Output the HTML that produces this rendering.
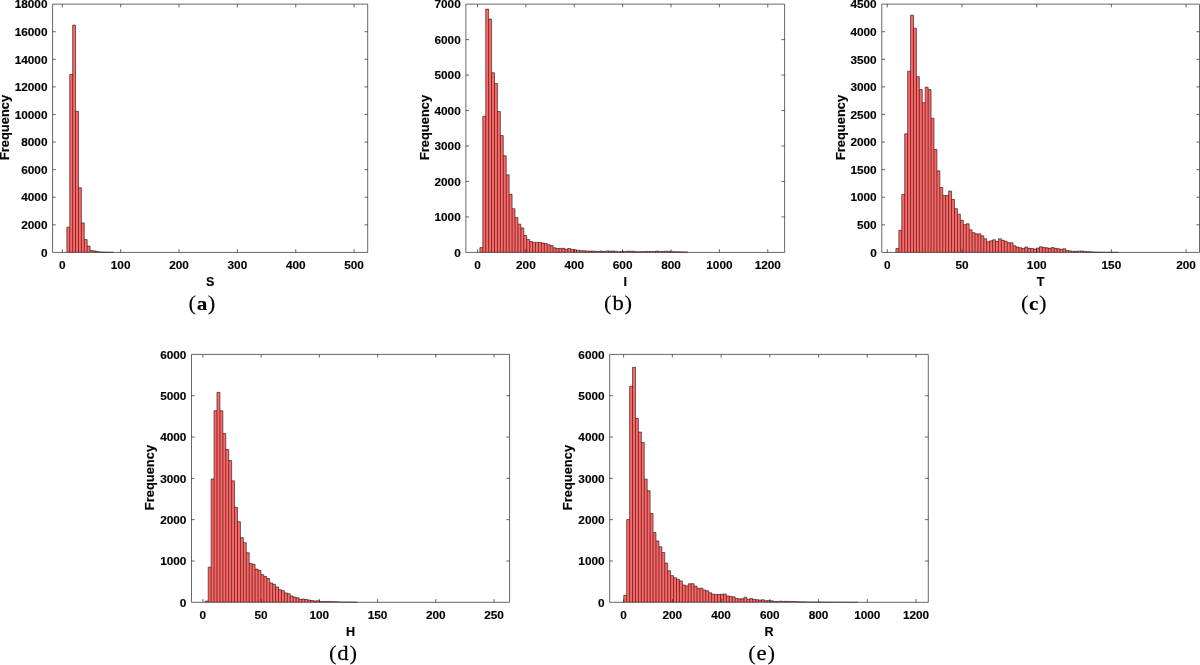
<!DOCTYPE html>
<html lang="en">
<head>
<meta charset="utf-8">
<title>Histograms</title>
<style>
html,body{margin:0;padding:0;background:#fff}
body{width:1200px;height:665px;overflow:hidden}
svg{display:block}
.bf{fill:#ff6666}
.be{fill:none;stroke:#000;stroke-width:0.55}
.ax{fill:none;stroke:#262626;stroke-width:0.7}
.t{font-family:"Liberation Sans",Arial,Helvetica,sans-serif;font-weight:700;font-size:11.8px;fill:#000;stroke:#000;stroke-width:.15}
.l{font-family:"Liberation Sans",Arial,Helvetica,sans-serif;font-weight:700;font-size:12.6px;fill:#000;stroke:#000;stroke-width:.15}
.yl{font-size:12.9px}
.cl{stroke-width:.25}
.cb{font-weight:700;font-size:19.6px;stroke-width:.12}
.c{font-family:"Liberation Serif","Times New Roman",serif;font-size:21px;fill:#000;stroke:#000;stroke-width:.1}
</style>
</head>
<body>
<svg width="1200" height="665" viewBox="0 0 1200 665">
<rect width="1200" height="665" fill="#fff"/>
<g>
<path class="bf" d="M66.85 252.4V227.16H69.75V74.49H72.66V25.11H75.56V111.31H78.47V187.72H81.38V222.89H84.28V239.57H87.18V246.06H90.09V250.61H92.99V250.88H95.9V251.5H98.8V251.92H101.71V252.06H104.61V252.15H107.52V252.21H110.42V252.26H113.33V252.4z"/>
<path class="be" d="M66.85 252.4V227.16M66.85 227.16H69.75M69.75 252.4V74.49M69.75 74.49H72.66M72.66 252.4V25.11M72.66 25.11H75.56M75.56 252.4V25.11M75.56 111.31H78.47M78.47 252.4V111.31M78.47 187.72H81.38M81.38 252.4V187.72M81.38 222.89H84.28M84.28 252.4V222.89M84.28 239.57H87.19M87.18 252.4V239.57M87.18 246.06H90.09M90.09 252.4V246.06M90.09 250.61H92.99M92.99 252.4V250.61M92.99 250.88H95.9M95.9 252.4V250.88M95.9 251.5H98.8M98.8 252.4V251.5M98.8 251.92H101.71M101.71 252.4V251.92M101.71 252.06H104.61M104.61 252.4V252.06M104.61 252.15H107.52M107.52 252.4V252.15M107.52 252.21H110.42M110.42 252.4V252.21M110.42 252.26H113.33M113.33 252.4V252.26"/>
<path class="ax" d="M52.6 4.15H367.7V252.4H52.6zM62.3 252.4v-3.2M62.3 4.15v3.2M120.66 252.4v-3.2M120.66 4.15v3.2M179.02 252.4v-3.2M179.02 4.15v3.2M237.38 252.4v-3.2M237.38 4.15v3.2M295.74 252.4v-3.2M295.74 4.15v3.2M354.1 252.4v-3.2M354.1 4.15v3.2M52.6 224.82h3.2M367.7 224.82h-3.2M52.6 197.23h3.2M367.7 197.23h-3.2M52.6 169.65h3.2M367.7 169.65h-3.2M52.6 142.07h3.2M367.7 142.07h-3.2M52.6 114.48h3.2M367.7 114.48h-3.2M52.6 86.9h3.2M367.7 86.9h-3.2M52.6 59.32h3.2M367.7 59.32h-3.2M52.6 31.73h3.2M367.7 31.73h-3.2"/>
<text class="t" x="62.3" y="269.1" text-anchor="middle">0</text>
<text class="t" x="120.66" y="269.1" text-anchor="middle">100</text>
<text class="t" x="179.02" y="269.1" text-anchor="middle">200</text>
<text class="t" x="237.38" y="269.1" text-anchor="middle">300</text>
<text class="t" x="295.74" y="269.1" text-anchor="middle">400</text>
<text class="t" x="354.1" y="269.1" text-anchor="middle">500</text>
<text class="t" x="47.5" y="256.6" text-anchor="end">0</text>
<text class="t" x="47.5" y="229.02" text-anchor="end">2000</text>
<text class="t" x="47.5" y="201.43" text-anchor="end">4000</text>
<text class="t" x="47.5" y="173.85" text-anchor="end">6000</text>
<text class="t" x="47.5" y="146.27" text-anchor="end">8000</text>
<text class="t" x="47.5" y="118.68" text-anchor="end">10000</text>
<text class="t" x="47.5" y="91.1" text-anchor="end">12000</text>
<text class="t" x="47.5" y="63.52" text-anchor="end">14000</text>
<text class="t" x="47.5" y="35.93" text-anchor="end">16000</text>
<text class="t" x="47.5" y="8.35" text-anchor="end">18000</text>
<text class="l" x="210.15" y="285.9" text-anchor="middle">S</text>
<text class="l yl" transform="translate(9.4 127.48) rotate(-90)" text-anchor="middle">Frequency</text>
<text class="c" transform="translate(202 310.2) scale(1.08 1)" text-anchor="middle">(<tspan class="cb" dx="0.5">a</tspan><tspan dx="0.5">)</tspan></text>
</g>
<g>
<path class="bf" d="M479.85 252.4V247.61H482.78V116.22H485.71V9.12H488.64V19.12H491.57V72.74H494.5V83.52H497.43V111.5H500.36V135.55H503.29V155.76H506.22V174.8H509.15V194.31H512.08V208.74H515.01V217.65H517.94V224.17H520.87V227.93H523.8V235.48H526.73V239.56H529.66V241.58H532.59V242.4H535.52V242.4H538.45V242.51H541.38V243H544.31V243.53H547.24V244.78H550.17V245.52H553.1V247.79H556.03V248.5H558.96V248.39H561.89V248.29H564.82V249.28H567.75V248.5H570.68V249.39H573.61V249.78H576.54V250.27H579.47V250.63H582.4V250.81H585.33V250.98H588.26V251.09H591.19V251.09H594.12V251.29H597.05V251.49H599.98V251.09H602.91V251.49H605.84V250.9H608.77V251.09H611.7V251.09H614.63V251.29H617.56V251.69H620.49V251.29H623.42V251.49H626.35V251.21H629.28V251.21H632.21V251.29H635.14V251.69H638.07V251.69H641V251.69H643.93V251.61H646.86V251.41H649.79V251.49H652.72V251.61H655.65V251.09H658.58V251.41H661.51V251.49H664.44V251.21H667.37V251.29H670.3V251.55H673.23V251.69H676.16V251.78H679.09V251.83H682.02V251.89H684.95V251.97H687.88V252.4z"/>
<path class="be" d="M479.85 252.4V247.61M479.85 247.61H482.78M482.78 252.4V116.22M482.78 116.22H485.71M485.71 252.4V9.12M485.71 9.12H488.64M488.64 252.4V9.12M488.64 19.12H491.57M491.57 252.4V19.12M491.57 72.74H494.5M494.5 252.4V72.74M494.5 83.52H497.43M497.43 252.4V83.52M497.43 111.5H500.36M500.36 252.4V111.5M500.36 135.55H503.29M503.29 252.4V135.55M503.29 155.76H506.22M506.22 252.4V155.76M506.22 174.8H509.15M509.15 252.4V174.8M509.15 194.31H512.08M512.08 252.4V194.31M512.08 208.74H515.01M515.01 252.4V208.74M515.01 217.65H517.94M517.94 252.4V217.65M517.94 224.17H520.87M520.87 252.4V224.17M520.87 227.93H523.8M523.8 252.4V227.93M523.8 235.48H526.73M526.73 252.4V235.48M526.73 239.56H529.66M529.66 252.4V239.56M529.66 241.58H532.59M532.59 252.4V241.58M532.59 242.4H535.52M535.52 252.4V242.4M535.52 242.4H538.45M538.45 252.4V242.4M538.45 242.51H541.38M541.38 252.4V242.51M541.38 243H544.31M544.31 252.4V243M544.31 243.53H547.24M547.24 252.4V243.53M547.24 244.78H550.17M550.17 252.4V244.78M550.17 245.52H553.1M553.1 252.4V245.52M553.1 247.79H556.03M556.03 252.4V247.79M556.03 248.5H558.96M558.96 252.4V248.39M558.96 248.39H561.89M561.89 252.4V248.29M561.89 248.29H564.82M564.82 252.4V248.29M564.82 249.28H567.75M567.75 252.4V248.5M567.75 248.5H570.68M570.68 252.4V248.5M570.68 249.39H573.61M573.61 252.4V249.39M573.61 249.78H576.54M576.54 252.4V249.78M576.54 250.27H579.47M579.47 252.4V250.27M579.47 250.63H582.4M582.4 252.4V250.63M582.4 250.81H585.33M585.33 252.4V250.81M585.33 250.98H588.26M588.26 252.4V250.98M588.26 251.09H591.19M591.19 252.4V251.09M591.19 251.09H594.12M594.12 252.4V251.09M594.12 251.29H597.05M597.05 252.4V251.29M597.05 251.49H599.98M599.98 252.4V251.09M599.98 251.09H602.91M602.91 252.4V251.09M602.91 251.49H605.84M605.84 252.4V250.9M605.84 250.9H608.77M608.77 252.4V250.9M608.77 251.09H611.7M611.7 252.4V251.09M611.7 251.09H614.63M614.63 252.4V251.09M614.63 251.29H617.56M617.56 252.4V251.29M617.56 251.69H620.49M620.49 252.4V251.29M620.49 251.29H623.42M623.42 252.4V251.29M623.42 251.49H626.35M626.35 252.4V251.21M626.35 251.21H629.28M629.28 252.4V251.21M629.28 251.21H632.21M632.21 252.4V251.21M632.21 251.29H635.14M635.14 252.4V251.29M635.14 251.69H638.07M638.07 252.4V251.69M638.07 251.69H641M641 252.4V251.69M641 251.69H643.93M643.93 252.4V251.61M643.93 251.61H646.86M646.86 252.4V251.41M646.86 251.41H649.79M649.79 252.4V251.41M649.79 251.49H652.72M652.72 252.4V251.49M652.72 251.61H655.65M655.65 252.4V251.09M655.65 251.09H658.58M658.58 252.4V251.09M658.58 251.41H661.51M661.51 252.4V251.41M661.51 251.49H664.44M664.44 252.4V251.21M664.44 251.21H667.37M667.37 252.4V251.21M667.37 251.29H670.3M670.3 252.4V251.29M670.3 251.55H673.23M673.23 252.4V251.55M673.23 251.69H676.16M676.16 252.4V251.69M676.16 251.78H679.09M679.09 252.4V251.78M679.09 251.83H682.02M682.02 252.4V251.83M682.02 251.89H684.95M684.95 252.4V251.89M684.95 251.97H687.88M687.88 252.4V251.97"/>
<path class="ax" d="M465.85 4.15H784.6V252.4H465.85zM477.5 252.4v-3.2M477.5 4.15v3.2M525.88 252.4v-3.2M525.88 4.15v3.2M574.26 252.4v-3.2M574.26 4.15v3.2M622.64 252.4v-3.2M622.64 4.15v3.2M671.02 252.4v-3.2M671.02 4.15v3.2M719.4 252.4v-3.2M719.4 4.15v3.2M767.78 252.4v-3.2M767.78 4.15v3.2M465.85 216.94h3.2M784.6 216.94h-3.2M465.85 181.47h3.2M784.6 181.47h-3.2M465.85 146.01h3.2M784.6 146.01h-3.2M465.85 110.54h3.2M784.6 110.54h-3.2M465.85 75.08h3.2M784.6 75.08h-3.2M465.85 39.61h3.2M784.6 39.61h-3.2"/>
<text class="t" x="477.5" y="269.1" text-anchor="middle">0</text>
<text class="t" x="525.88" y="269.1" text-anchor="middle">200</text>
<text class="t" x="574.26" y="269.1" text-anchor="middle">400</text>
<text class="t" x="622.64" y="269.1" text-anchor="middle">600</text>
<text class="t" x="671.02" y="269.1" text-anchor="middle">800</text>
<text class="t" x="719.4" y="269.1" text-anchor="middle">1000</text>
<text class="t" x="767.78" y="269.1" text-anchor="middle">1200</text>
<text class="t" x="460.75" y="256.6" text-anchor="end">0</text>
<text class="t" x="460.75" y="221.14" text-anchor="end">1000</text>
<text class="t" x="460.75" y="185.67" text-anchor="end">2000</text>
<text class="t" x="460.75" y="150.21" text-anchor="end">3000</text>
<text class="t" x="460.75" y="114.74" text-anchor="end">4000</text>
<text class="t" x="460.75" y="79.28" text-anchor="end">5000</text>
<text class="t" x="460.75" y="43.81" text-anchor="end">6000</text>
<text class="t" x="460.75" y="8.35" text-anchor="end">7000</text>
<text class="l" x="625.23" y="285.9" text-anchor="middle">I</text>
<text class="l yl" transform="translate(429.1 127.48) rotate(-90)" text-anchor="middle">Frequency</text>
<text class="c" transform="translate(618.1 310.2) scale(1.08 1)" text-anchor="middle">(<tspan class="cl" dx="0.8">b</tspan><tspan dx="0.8">)</tspan></text>
</g>
<g>
<path class="bf" d="M895.9 252.4V248.59H898.83V230.33H901.76V194.42H904.69V133.79H907.62V71.23H910.55V15.18H913.48V28.15H916.41V76.64H919.34V89.55H922.27V102.68H925.2V87.23H928.13V89.55H931.06V118.18H933.99V149.46H936.92V170.86H939.85V187.47H942.78V195.41H945.71V195.41H948.64V191.11H951.57V199.5H954.5V208.65H957.43V214.17H960.36V220.24H963.29V224.65H966.22V223.82H969.15V229.78H972.08V232.65H975.01V233.86H977.94V233.86H980.87V235.85H983.8V238.77H986.73V241.75H989.66V240.87H992.59V239.77H995.52V241.53H998.45V238.77H1001.38V240.26H1004.31V241.26H1007.24V242.75H1010.17V242.75H1013.1V245.78H1016.03V246.99H1018.96V247.77H1021.89V248.54H1024.82V246.99H1027.75V248.37H1030.68V248.54H1033.61V249.03H1036.54V248.04H1039.47V246.77H1042.4V247.55H1045.33V247.77H1048.26V248.37H1051.19V247.55H1054.12V248.37H1057.05V248.76H1059.98V249.26H1062.91V248.76H1065.84V250.52H1068.77V250.91H1071.7V251.3H1074.63V251.3H1077.56V251.13H1080.49V251.02H1083.42V251.41H1086.35V251.63H1089.28V251.79H1092.21V252.01H1095.14V252.12H1098.07V252.18H1101V252.23H1103.93V252.23H1106.86V252.29H1109.79V252.29H1112.72V252.3H1115.65V252.31H1118.58V252.4z"/>
<path class="be" d="M895.9 252.4V248.59M895.9 248.59H898.83M898.83 252.4V230.33M898.83 230.33H901.76M901.76 252.4V194.42M901.76 194.42H904.69M904.69 252.4V133.79M904.69 133.79H907.62M907.62 252.4V71.23M907.62 71.23H910.55M910.55 252.4V15.18M910.55 15.18H913.48M913.48 252.4V15.18M913.48 28.15H916.41M916.41 252.4V28.15M916.41 76.64H919.34M919.34 252.4V76.64M919.34 89.55H922.27M922.27 252.4V89.55M922.27 102.68H925.2M925.2 252.4V87.23M925.2 87.23H928.13M928.13 252.4V87.23M928.13 89.55H931.06M931.06 252.4V89.55M931.06 118.18H933.99M933.99 252.4V118.18M933.99 149.46H936.92M936.92 252.4V149.46M936.92 170.86H939.85M939.85 252.4V170.86M939.85 187.47H942.78M942.78 252.4V187.47M942.78 195.41H945.71M945.71 252.4V195.41M945.71 195.41H948.64M948.64 252.4V191.11M948.64 191.11H951.57M951.57 252.4V191.11M951.57 199.5H954.5M954.5 252.4V199.5M954.5 208.65H957.43M957.43 252.4V208.65M957.43 214.17H960.36M960.36 252.4V214.17M960.36 220.24H963.29M963.29 252.4V220.24M963.29 224.65H966.22M966.22 252.4V223.82M966.22 223.82H969.15M969.15 252.4V223.82M969.15 229.78H972.08M972.08 252.4V229.78M972.08 232.65H975.01M975.01 252.4V232.65M975.01 233.86H977.94M977.94 252.4V233.86M977.94 233.86H980.87M980.87 252.4V233.86M980.87 235.85H983.8M983.8 252.4V235.85M983.8 238.77H986.73M986.73 252.4V238.77M986.73 241.75H989.66M989.66 252.4V240.87M989.66 240.87H992.59M992.59 252.4V239.77M992.59 239.77H995.52M995.52 252.4V239.77M995.52 241.53H998.45M998.45 252.4V238.77M998.45 238.77H1001.38M1001.38 252.4V238.77M1001.38 240.26H1004.31M1004.31 252.4V240.26M1004.31 241.26H1007.24M1007.24 252.4V241.26M1007.24 242.75H1010.17M1010.17 252.4V242.75M1010.17 242.75H1013.1M1013.1 252.4V242.75M1013.1 245.78H1016.03M1016.03 252.4V245.78M1016.03 246.99H1018.96M1018.96 252.4V246.99M1018.96 247.77H1021.89M1021.89 252.4V247.77M1021.89 248.54H1024.82M1024.82 252.4V246.99M1024.82 246.99H1027.75M1027.75 252.4V246.99M1027.75 248.37H1030.68M1030.68 252.4V248.37M1030.68 248.54H1033.61M1033.61 252.4V248.54M1033.61 249.03H1036.54M1036.54 252.4V248.04M1036.54 248.04H1039.47M1039.47 252.4V246.77M1039.47 246.77H1042.4M1042.4 252.4V246.77M1042.4 247.55H1045.33M1045.33 252.4V247.55M1045.33 247.77H1048.26M1048.26 252.4V247.77M1048.26 248.37H1051.19M1051.19 252.4V247.55M1051.19 247.55H1054.12M1054.12 252.4V247.55M1054.12 248.37H1057.05M1057.05 252.4V248.37M1057.05 248.76H1059.98M1059.98 252.4V248.76M1059.98 249.26H1062.91M1062.91 252.4V248.76M1062.91 248.76H1065.84M1065.84 252.4V248.76M1065.84 250.52H1068.77M1068.77 252.4V250.52M1068.77 250.91H1071.7M1071.7 252.4V250.91M1071.7 251.3H1074.63M1074.63 252.4V251.3M1074.63 251.3H1077.56M1077.56 252.4V251.13M1077.56 251.13H1080.49M1080.49 252.4V251.02M1080.49 251.02H1083.42M1083.42 252.4V251.02M1083.42 251.41H1086.35M1086.35 252.4V251.41M1086.35 251.63H1089.28M1089.28 252.4V251.63M1089.28 251.79H1092.21M1092.21 252.4V251.79M1092.21 252.01H1095.14M1095.14 252.4V252.01M1095.14 252.12H1098.07M1098.07 252.4V252.12M1098.07 252.18H1101M1101 252.4V252.18M1101 252.23H1103.93M1103.93 252.4V252.23M1103.93 252.23H1106.86M1106.86 252.4V252.23M1106.86 252.29H1109.79M1109.79 252.4V252.29M1109.79 252.29H1112.72M1112.72 252.4V252.29M1112.72 252.3H1115.65M1115.65 252.4V252.3M1115.65 252.31H1118.58M1118.58 252.4V252.31"/>
<path class="ax" d="M881.8 4.15H1199.5V252.4H881.8zM887.3 252.4v-3.2M887.3 4.15v3.2M962 252.4v-3.2M962 4.15v3.2M1036.7 252.4v-3.2M1036.7 4.15v3.2M1111.4 252.4v-3.2M1111.4 4.15v3.2M1186.1 252.4v-3.2M1186.1 4.15v3.2M881.8 224.82h3.2M1199.5 224.82h-3.2M881.8 197.23h3.2M1199.5 197.23h-3.2M881.8 169.65h3.2M1199.5 169.65h-3.2M881.8 142.07h3.2M1199.5 142.07h-3.2M881.8 114.48h3.2M1199.5 114.48h-3.2M881.8 86.9h3.2M1199.5 86.9h-3.2M881.8 59.32h3.2M1199.5 59.32h-3.2M881.8 31.73h3.2M1199.5 31.73h-3.2"/>
<text class="t" x="887.3" y="269.1" text-anchor="middle">0</text>
<text class="t" x="962" y="269.1" text-anchor="middle">50</text>
<text class="t" x="1036.7" y="269.1" text-anchor="middle">100</text>
<text class="t" x="1111.4" y="269.1" text-anchor="middle">150</text>
<text class="t" x="1186.1" y="269.1" text-anchor="middle">200</text>
<text class="t" x="876.7" y="256.6" text-anchor="end">0</text>
<text class="t" x="876.7" y="229.02" text-anchor="end">500</text>
<text class="t" x="876.7" y="201.43" text-anchor="end">1000</text>
<text class="t" x="876.7" y="173.85" text-anchor="end">1500</text>
<text class="t" x="876.7" y="146.27" text-anchor="end">2000</text>
<text class="t" x="876.7" y="118.68" text-anchor="end">2500</text>
<text class="t" x="876.7" y="91.1" text-anchor="end">3000</text>
<text class="t" x="876.7" y="63.52" text-anchor="end">3500</text>
<text class="t" x="876.7" y="35.93" text-anchor="end">4000</text>
<text class="t" x="876.7" y="8.35" text-anchor="end">4500</text>
<text class="l" x="1040.65" y="285.9" text-anchor="middle">T</text>
<text class="l yl" transform="translate(844.9 127.48) rotate(-90)" text-anchor="middle">Frequency</text>
<text class="c" transform="translate(1033.8 310.2) scale(1.08 1)" text-anchor="middle">(<tspan class="cb" dx="0.5">c</tspan><tspan dx="0.5">)</tspan></text>
</g>
<g>
<path class="bf" d="M205.26 602.3V601.06H208.19V567.18H211.12V478.97H214.05V410.71H216.98V392.33H219.91V410.71H222.84V433.6H225.77V449.43H228.7V460.58H231.63V480.87H234.56V507.31H237.49V521.73H240.42V537.6H243.35V542.68H246.28V552.76H249.21V563.34H252.14V564.29H255.07V569.12H258V570.32H260.93V574.66H263.86V576.56H266.79V578.5H269.72V582.96H272.65V584.29H275.58V586.93H278.51V589.7H281.44V590.65H284.37V592.88H287.3V593.71H290.23V595.94H293.16V597.05H296.09V597.8H299.02V599.28H301.95V599.04H304.88V599.53H307.81V600.07H310.74V600.56H313.67V600.94H316.6V600.69H319.53V601.43H322.46V601.56H325.39V601.56H328.32V601.43H331.25V601.68H334.18V601.68H337.11V601.89H340.04V601.93H342.97V601.97H345.9V602.01H348.83V602.05H351.76V602.05H354.69V602.09H357.62V602.3z"/>
<path class="be" d="M205.26 602.3V601.06M205.26 601.06H208.19M208.19 602.3V567.18M208.19 567.18H211.12M211.12 602.3V478.97M211.12 478.97H214.05M214.05 602.3V410.71M214.05 410.71H216.98M216.98 602.3V392.33M216.98 392.33H219.91M219.91 602.3V392.33M219.91 410.71H222.84M222.84 602.3V410.71M222.84 433.6H225.77M225.77 602.3V433.6M225.77 449.43H228.7M228.7 602.3V449.43M228.7 460.58H231.63M231.63 602.3V460.58M231.63 480.87H234.56M234.56 602.3V480.87M234.56 507.31H237.49M237.49 602.3V507.31M237.49 521.73H240.42M240.42 602.3V521.73M240.42 537.6H243.35M243.35 602.3V537.6M243.35 542.68H246.28M246.28 602.3V542.68M246.28 552.76H249.21M249.21 602.3V552.76M249.21 563.34H252.14M252.14 602.3V563.34M252.14 564.29H255.07M255.07 602.3V564.29M255.07 569.12H258M258 602.3V569.12M258 570.32H260.93M260.93 602.3V570.32M260.93 574.66H263.86M263.86 602.3V574.66M263.86 576.56H266.79M266.79 602.3V576.56M266.79 578.5H269.72M269.72 602.3V578.5M269.72 582.96H272.65M272.65 602.3V582.96M272.65 584.29H275.58M275.58 602.3V584.29M275.58 586.93H278.51M278.51 602.3V586.93M278.51 589.7H281.44M281.44 602.3V589.7M281.44 590.65H284.37M284.37 602.3V590.65M284.37 592.88H287.3M287.3 602.3V592.88M287.3 593.71H290.23M290.23 602.3V593.71M290.23 595.94H293.16M293.16 602.3V595.94M293.16 597.05H296.09M296.09 602.3V597.05M296.09 597.8H299.02M299.02 602.3V597.8M299.02 599.28H301.95M301.95 602.3V599.04M301.95 599.04H304.88M304.88 602.3V599.04M304.88 599.53H307.81M307.81 602.3V599.53M307.81 600.07H310.74M310.74 602.3V600.07M310.74 600.56H313.67M313.67 602.3V600.56M313.67 600.94H316.6M316.6 602.3V600.69M316.6 600.69H319.53M319.53 602.3V600.69M319.53 601.43H322.46M322.46 602.3V601.43M322.46 601.56H325.39M325.39 602.3V601.56M325.39 601.56H328.32M328.32 602.3V601.43M328.32 601.43H331.25M331.25 602.3V601.43M331.25 601.68H334.18M334.18 602.3V601.68M334.18 601.68H337.11M337.11 602.3V601.68M337.11 601.89H340.04M340.04 602.3V601.89M340.04 601.93H342.97M342.97 602.3V601.93M342.97 601.97H345.9M345.9 602.3V601.97M345.9 602.01H348.83M348.83 602.3V602.01M348.83 602.05H351.76M351.76 602.3V602.05M351.76 602.05H354.69M354.69 602.3V602.05M354.69 602.09H357.62M357.62 602.3V602.09"/>
<path class="ax" d="M191.5 354.4H509.6V602.3H191.5zM202.9 602.3v-3.2M202.9 354.4v3.2M261.12 602.3v-3.2M261.12 354.4v3.2M319.35 602.3v-3.2M319.35 354.4v3.2M377.58 602.3v-3.2M377.58 354.4v3.2M435.8 602.3v-3.2M435.8 354.4v3.2M494.02 602.3v-3.2M494.02 354.4v3.2M191.5 560.98h3.2M509.6 560.98h-3.2M191.5 519.67h3.2M509.6 519.67h-3.2M191.5 478.35h3.2M509.6 478.35h-3.2M191.5 437.03h3.2M509.6 437.03h-3.2M191.5 395.72h3.2M509.6 395.72h-3.2"/>
<text class="t" x="202.9" y="619" text-anchor="middle">0</text>
<text class="t" x="261.12" y="619" text-anchor="middle">50</text>
<text class="t" x="319.35" y="619" text-anchor="middle">100</text>
<text class="t" x="377.58" y="619" text-anchor="middle">150</text>
<text class="t" x="435.8" y="619" text-anchor="middle">200</text>
<text class="t" x="494.02" y="619" text-anchor="middle">250</text>
<text class="t" x="186.4" y="606.5" text-anchor="end">0</text>
<text class="t" x="186.4" y="565.18" text-anchor="end">1000</text>
<text class="t" x="186.4" y="523.87" text-anchor="end">2000</text>
<text class="t" x="186.4" y="482.55" text-anchor="end">3000</text>
<text class="t" x="186.4" y="441.23" text-anchor="end">4000</text>
<text class="t" x="186.4" y="399.92" text-anchor="end">5000</text>
<text class="t" x="186.4" y="358.6" text-anchor="end">6000</text>
<text class="l" x="350.55" y="635.8" text-anchor="middle">H</text>
<text class="l yl" transform="translate(153.7 477.55) rotate(-90)" text-anchor="middle">Frequency</text>
<text class="c" transform="translate(343 660.1) scale(1.08 1)" text-anchor="middle">(<tspan class="cl" dx="0.8">d</tspan><tspan dx="0.8">)</tspan></text>
</g>
<g>
<path class="bf" d="M623.75 602.3V595.32H626.68V519.58H629.61V386.3H632.54V367.29H635.47V418.52H638.4V432.03H641.33V442.61H644.26V479.18H647.19V490.74H650.12V513.55H653.05V532.56H655.98V540.99H658.91V546.77H661.84V552.51H664.77V563.09H667.7V570.82H670.63V575.61H673.56V577.76H676.49V579.2H679.42V580.9H682.35V584.99H685.28V585.94H688.21V583.79H691.14V583.67H694.07V586.1H697V588.33H699.93V588.17H702.86V589.9H705.79V590.81H708.72V592.8H711.65V594.28H714.58V594.41H717.51V594.53H720.44V594.16H723.37V594.04H726.3V595.94H729.23V596.43H732.16V596.8H735.09V598.42H738.02V598.79H740.95V598.79H743.88V597.3H746.81V599.28H749.74V598.54H752.67V599.41H755.6V599.66H758.53V600.07H761.46V599.78H764.39V600.69H767.32V600.56H770.25V600.81H773.18V601.43H776.11V601.43H779.04V601.18H781.97V601.43H784.9V601.31H787.83V601.43H790.76V601.43H793.69V601.56H796.62V601.72H799.55V601.8H802.48V601.85H805.41V601.89H808.34V601.93H811.27V601.97H814.2V601.97H817.13V602.01H820.06V602.05H822.99V602.05H825.92V602.09H828.85V602.09H831.78V602.13H834.71V602.13H837.64V602.15H840.57V602.16H843.5V602.17H846.43V602.18H849.36V602.19H852.29V602.19H855.22V602.2H858.15V602.3z"/>
<path class="be" d="M623.75 602.3V595.32M623.75 595.32H626.68M626.68 602.3V519.58M626.68 519.58H629.61M629.61 602.3V386.3M629.61 386.3H632.54M632.54 602.3V367.29M632.54 367.29H635.47M635.47 602.3V367.29M635.47 418.52H638.4M638.4 602.3V418.52M638.4 432.03H641.33M641.33 602.3V432.03M641.33 442.61H644.26M644.26 602.3V442.61M644.26 479.18H647.19M647.19 602.3V479.18M647.19 490.74H650.12M650.12 602.3V490.74M650.12 513.55H653.05M653.05 602.3V513.55M653.05 532.56H655.98M655.98 602.3V532.56M655.98 540.99H658.91M658.91 602.3V540.99M658.91 546.77H661.84M661.84 602.3V546.77M661.84 552.51H664.77M664.77 602.3V552.51M664.77 563.09H667.7M667.7 602.3V563.09M667.7 570.82H670.63M670.63 602.3V570.82M670.63 575.61H673.56M673.56 602.3V575.61M673.56 577.76H676.49M676.49 602.3V577.76M676.49 579.2H679.42M679.42 602.3V579.2M679.42 580.9H682.35M682.35 602.3V580.9M682.35 584.99H685.28M685.28 602.3V584.99M685.28 585.94H688.21M688.21 602.3V583.79M688.21 583.79H691.14M691.14 602.3V583.67M691.14 583.67H694.07M694.07 602.3V583.67M694.07 586.1H697M697 602.3V586.1M697 588.33H699.93M699.93 602.3V588.17M699.93 588.17H702.86M702.86 602.3V588.17M702.86 589.9H705.79M705.79 602.3V589.9M705.79 590.81H708.72M708.72 602.3V590.81M708.72 592.8H711.65M711.65 602.3V592.8M711.65 594.28H714.58M714.58 602.3V594.28M714.58 594.41H717.51M717.51 602.3V594.41M717.51 594.53H720.44M720.44 602.3V594.16M720.44 594.16H723.37M723.37 602.3V594.04M723.37 594.04H726.3M726.3 602.3V594.04M726.3 595.94H729.23M729.23 602.3V595.94M729.23 596.43H732.16M732.16 602.3V596.43M732.16 596.8H735.09M735.09 602.3V596.8M735.09 598.42H738.02M738.02 602.3V598.42M738.02 598.79H740.95M740.95 602.3V598.79M740.95 598.79H743.88M743.88 602.3V597.3M743.88 597.3H746.81M746.81 602.3V597.3M746.81 599.28H749.74M749.74 602.3V598.54M749.74 598.54H752.67M752.67 602.3V598.54M752.67 599.41H755.6M755.6 602.3V599.41M755.6 599.66H758.53M758.53 602.3V599.66M758.53 600.07H761.46M761.46 602.3V599.78M761.46 599.78H764.39M764.39 602.3V599.78M764.39 600.69H767.32M767.32 602.3V600.56M767.32 600.56H770.25M770.25 602.3V600.56M770.25 600.81H773.18M773.18 602.3V600.81M773.18 601.43H776.11M776.11 602.3V601.43M776.11 601.43H779.04M779.04 602.3V601.18M779.04 601.18H781.97M781.97 602.3V601.18M781.97 601.43H784.9M784.9 602.3V601.31M784.9 601.31H787.83M787.83 602.3V601.31M787.83 601.43H790.76M790.76 602.3V601.43M790.76 601.43H793.69M793.69 602.3V601.43M793.69 601.56H796.62M796.62 602.3V601.56M796.62 601.72H799.55M799.55 602.3V601.72M799.55 601.8H802.48M802.48 602.3V601.8M802.48 601.85H805.41M805.41 602.3V601.85M805.41 601.89H808.34M808.34 602.3V601.89M808.34 601.93H811.27M811.27 602.3V601.93M811.27 601.97H814.2M814.2 602.3V601.97M814.2 601.97H817.13M817.13 602.3V601.97M817.13 602.01H820.06M820.06 602.3V602.01M820.06 602.05H822.99M822.99 602.3V602.05M822.99 602.05H825.92M825.92 602.3V602.05M825.92 602.09H828.85M828.85 602.3V602.09M828.85 602.09H831.78M831.78 602.3V602.09M831.78 602.13H834.71M834.71 602.3V602.13M834.71 602.13H837.64M837.64 602.3V602.13M837.64 602.15H840.57M840.57 602.3V602.15M840.57 602.16H843.5M843.5 602.3V602.16M843.5 602.17H846.43M846.43 602.3V602.17M846.43 602.18H849.36M849.36 602.3V602.18M849.36 602.19H852.29M852.29 602.3V602.19M852.29 602.19H855.22M855.22 602.3V602.19M855.22 602.2H858.15M858.15 602.3V602.2"/>
<path class="ax" d="M609.7 354.4H928.3V602.3H609.7zM623.6 602.3v-3.2M623.6 354.4v3.2M672.34 602.3v-3.2M672.34 354.4v3.2M721.08 602.3v-3.2M721.08 354.4v3.2M769.82 602.3v-3.2M769.82 354.4v3.2M818.56 602.3v-3.2M818.56 354.4v3.2M867.3 602.3v-3.2M867.3 354.4v3.2M916.04 602.3v-3.2M916.04 354.4v3.2M609.7 560.98h3.2M928.3 560.98h-3.2M609.7 519.67h3.2M928.3 519.67h-3.2M609.7 478.35h3.2M928.3 478.35h-3.2M609.7 437.03h3.2M928.3 437.03h-3.2M609.7 395.72h3.2M928.3 395.72h-3.2"/>
<text class="t" x="623.6" y="619" text-anchor="middle">0</text>
<text class="t" x="672.34" y="619" text-anchor="middle">200</text>
<text class="t" x="721.08" y="619" text-anchor="middle">400</text>
<text class="t" x="769.82" y="619" text-anchor="middle">600</text>
<text class="t" x="818.56" y="619" text-anchor="middle">800</text>
<text class="t" x="867.3" y="619" text-anchor="middle">1000</text>
<text class="t" x="916.04" y="619" text-anchor="middle">1200</text>
<text class="t" x="604.6" y="606.5" text-anchor="end">0</text>
<text class="t" x="604.6" y="565.18" text-anchor="end">1000</text>
<text class="t" x="604.6" y="523.87" text-anchor="end">2000</text>
<text class="t" x="604.6" y="482.55" text-anchor="end">3000</text>
<text class="t" x="604.6" y="441.23" text-anchor="end">4000</text>
<text class="t" x="604.6" y="399.92" text-anchor="end">5000</text>
<text class="t" x="604.6" y="358.6" text-anchor="end">6000</text>
<text class="l" x="769" y="635.8" text-anchor="middle">R</text>
<text class="l yl" transform="translate(571.9 477.55) rotate(-90)" text-anchor="middle">Frequency</text>
<text class="c" transform="translate(761.6 660.1) scale(1.08 1)" text-anchor="middle">(<tspan class="cl" dx="0.8">e</tspan><tspan dx="0.8">)</tspan></text>
</g>
</svg>
</body>
</html>
